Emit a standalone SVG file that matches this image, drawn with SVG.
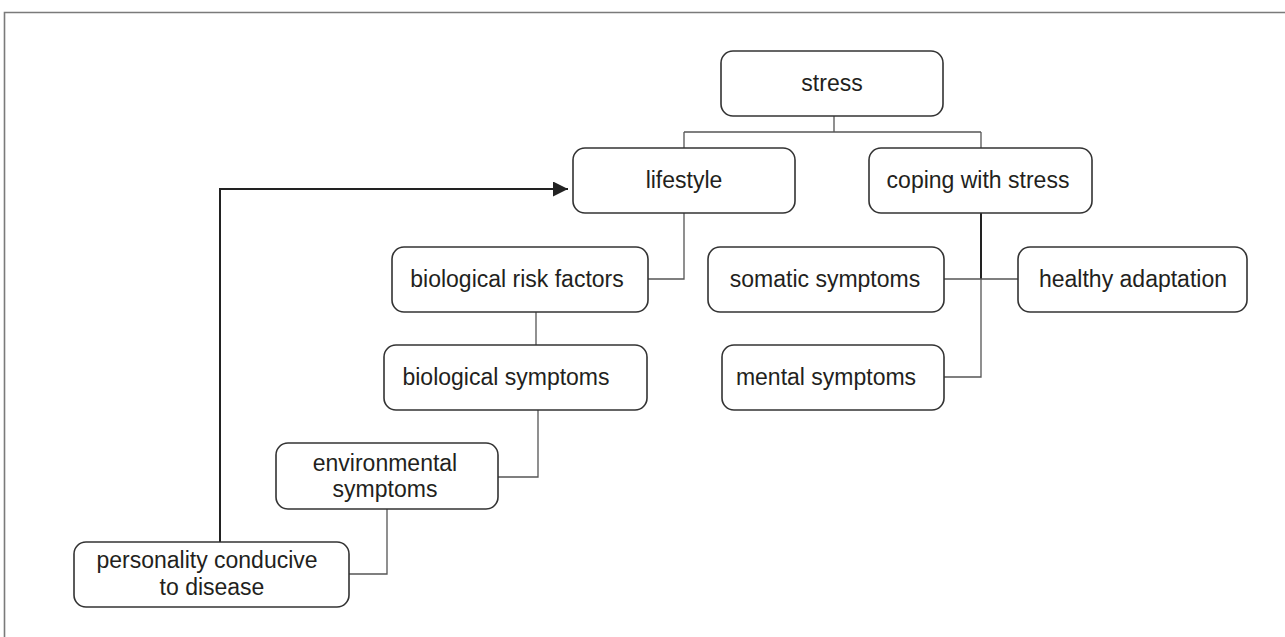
<svg xmlns="http://www.w3.org/2000/svg" width="1285" height="637" viewBox="0 0 1285 637">
<defs>
<style>
.box{fill:#fff;stroke:#333;stroke-width:1.6}
.t{font-family:"Liberation Sans",Arial,Helvetica,sans-serif;font-size:23px;fill:#231f20;text-anchor:middle}
.c{fill:none;stroke:#555;stroke-width:1.3}
.cd{fill:none;stroke:#222;stroke-width:2}
.frame{fill:none;stroke:#7a7a7a;stroke-width:1.6}
</style>
<marker id="ah" markerWidth="16" markerHeight="15" refX="15" refY="7.5" orient="auto" markerUnits="userSpaceOnUse">
<path d="M0,0 L15,7.5 L0,15 Z" fill="#222"/>
</marker>
</defs>
<rect width="1285" height="637" fill="#fff"/>
<path class="frame" d="M4.5,637 V12.5 H1285"/>
<g id="connectors">
<path class="c" d="M834,116 V132 M684,132 H981 M684,132 V148 M981,132 V148"/>
<path class="c" d="M684,213 V279 H648"/>
<path class="c" d="M536,312 V345"/>
<path class="c" d="M538,410 V477 H498"/>
<path class="c" d="M387,509 V574 H349"/>
<path class="cd" d="M981,213 V279"/>
<path class="c" d="M981,279 V377 H944 M944,279 H1018"/>
<path class="cd" d="M220,542 V189 H568" marker-end="url(#ah)"/>
</g>
<g id="stress"><rect class="box" x="721" y="51" width="222" height="65" rx="12"/><text class="t" x="832" y="91">stress</text></g>
<g id="lifestyle"><rect class="box" x="573" y="148" width="222" height="65" rx="12"/><text class="t" x="684" y="188">lifestyle</text></g>
<g id="coping"><rect class="box" x="869" y="148" width="223" height="65" rx="12"/><text class="t" x="978" y="188">coping with stress</text></g>
<g id="bio-risk"><rect class="box" x="392" y="247" width="256" height="65" rx="12"/><text class="t" x="517" y="287">biological risk factors</text></g>
<g id="somatic"><rect class="box" x="708" y="247" width="236" height="65" rx="12"/><text class="t" x="825" y="287">somatic symptoms</text></g>
<g id="healthy"><rect class="box" x="1018" y="247" width="229" height="65" rx="12"/><text class="t" x="1133" y="287">healthy adaptation</text></g>
<g id="bio-symptoms"><rect class="box" x="384" y="345" width="263" height="65" rx="12"/><text class="t" x="506" y="385">biological symptoms</text></g>
<g id="mental"><rect class="box" x="722" y="345" width="222" height="65" rx="12"/><text class="t" x="826" y="385">mental symptoms</text></g>
<g id="environmental"><rect class="box" x="276" y="443" width="222" height="66" rx="12"/><text class="t" x="385" y="471">environmental</text><text class="t" x="385" y="497">symptoms</text></g>
<g id="personality"><rect class="box" x="74" y="542" width="275" height="65" rx="12"/><text class="t" x="207" y="568">personality conducive</text><text class="t" x="212" y="595">to disease</text></g>
</svg>
